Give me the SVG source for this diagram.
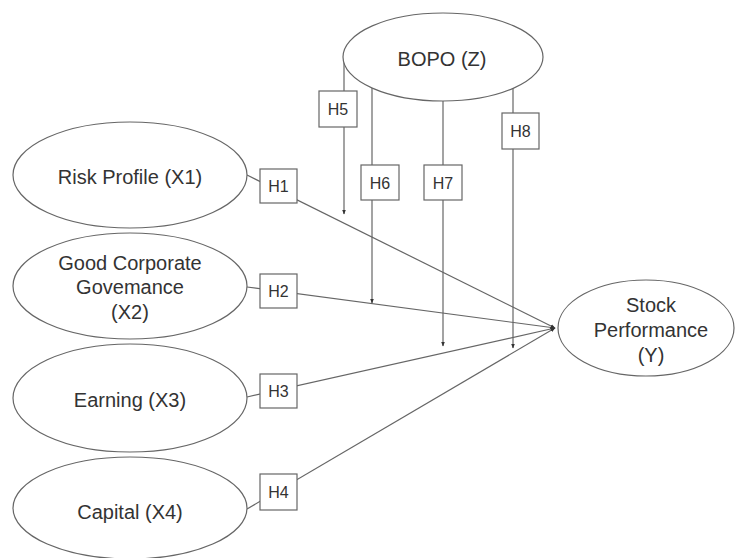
<svg xmlns="http://www.w3.org/2000/svg" width="736" height="558" viewBox="0 0 736 558">
<style>
.node ellipse{fill:#fff;stroke:#666;stroke-width:1.2}
.lbl{font-family:"Liberation Sans",Arial,sans-serif;font-size:20px;fill:#333;text-anchor:middle}
.hbox rect{fill:#fff;stroke:#666;stroke-width:1.2}
.hbox text{font-family:"Liberation Sans",Arial,sans-serif;font-size:16px;fill:#333;text-anchor:middle}
.conn line{stroke:#666;stroke-width:1.2;fill:none}
</style>
<defs>
<marker id="arr" viewBox="0 0 10 10" refX="9" refY="5" markerWidth="5" markerHeight="5" orient="auto" markerUnits="userSpaceOnUse">
<path d="M0,1 L10,5 L0,9 z" fill="#333"/>
</marker>
</defs>
<rect width="736" height="558" fill="#fff"/>
<g id="connectors" class="conn">
<line x1="247" y1="175" x2="555" y2="328" marker-end="url(#arr)"/>
<line x1="247" y1="287" x2="555" y2="328" marker-end="url(#arr)"/>
<line x1="247" y1="397" x2="555" y2="328" marker-end="url(#arr)"/>
<line x1="247" y1="509" x2="555" y2="328" marker-end="url(#arr)"/>
<line x1="344" y1="57" x2="344" y2="214" marker-end="url(#arr)"/>
<line x1="372" y1="88" x2="372" y2="303" marker-end="url(#arr)"/>
<line x1="443" y1="101" x2="443" y2="346" marker-end="url(#arr)"/>
<line x1="513" y1="88" x2="513" y2="348" marker-end="url(#arr)"/>
</g>
<g id="bopo" class="node">
<ellipse cx="443" cy="57" rx="100" ry="44"/>
<text class="lbl" x="442" y="66">BOPO (Z)</text>
</g>
<g id="x1" class="node">
<ellipse cx="130" cy="175" rx="117" ry="53"/>
<text class="lbl" x="130" y="184">Risk Profile (X1)</text>
</g>
<g id="x2" class="node">
<ellipse cx="130" cy="286" rx="117" ry="53"/>
<text class="lbl" x="130" y="270">Good Corporate</text>
<text class="lbl" x="130" y="294">Govemance</text>
<text class="lbl" x="130" y="319">(X2)</text>
</g>
<g id="x3" class="node">
<ellipse cx="130" cy="398" rx="117" ry="54"/>
<text class="lbl" x="130" y="407">Earning (X3)</text>
</g>
<g id="x4" class="node">
<ellipse cx="130" cy="508" rx="117" ry="51"/>
<text class="lbl" x="130" y="519">Capital (X4)</text>
</g>
<g id="y" class="node">
<ellipse cx="646" cy="328" rx="88" ry="48"/>
<text class="lbl" x="651" y="312">Stock</text>
<text class="lbl" x="651" y="337">Performance</text>
<text class="lbl" x="651" y="362">(Y)</text>
</g>
<g id="h1" class="hbox"><rect x="260" y="169" width="37" height="34"/><text x="278.5" y="192">H1</text></g>
<g id="h2" class="hbox"><rect x="260" y="274" width="37" height="34"/><text x="278.5" y="297">H2</text></g>
<g id="h3" class="hbox"><rect x="260" y="374" width="37" height="34"/><text x="278.5" y="397">H3</text></g>
<g id="h4" class="hbox"><rect x="260" y="474" width="37" height="36"/><text x="278.5" y="498">H4</text></g>
<g id="h5" class="hbox"><rect x="319" y="91" width="38" height="36"/><text x="338" y="115">H5</text></g>
<g id="h6" class="hbox"><rect x="361" y="165" width="38" height="35"/><text x="380" y="189">H6</text></g>
<g id="h7" class="hbox"><rect x="424" y="165" width="38" height="35"/><text x="443" y="189">H7</text></g>
<g id="h8" class="hbox"><rect x="502" y="113" width="37" height="36"/><text x="520.5" y="137">H8</text></g>
</svg>
